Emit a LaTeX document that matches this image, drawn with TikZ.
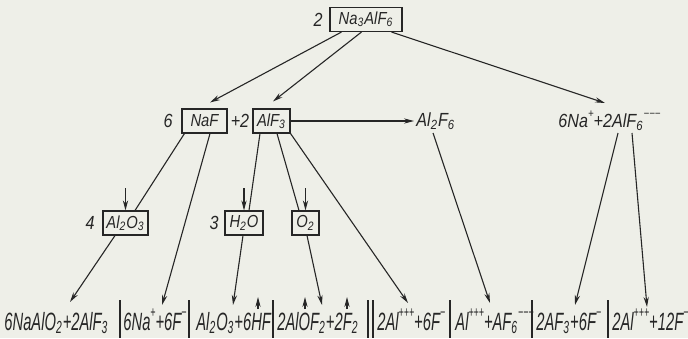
\documentclass[tikz,border=0pt]{standalone}
\usepackage{fontspec}
\setmainfont{Liberation Sans}
\newfontfamily\eqfont{Liberation Sans}[FakeStretch=0.59]
\newfontfamily\boxfont{Liberation Sans}[FakeStretch=0.85]
\usepackage{xcolor}
\usepackage{graphicx}
\usepackage{tikz}
\usetikzlibrary{arrows.meta,positioning,calc}

\definecolor{paper}{RGB}{238,239,232}
\definecolor{ink}{RGB}{38,38,38}

\newcommand{\subs}[1]{\textsubscript{#1}}
\newcommand{\chrg}[1]{\raisebox{0.95ex}{\scalebox{0.6}{#1}}}

\begin{document}
\begin{tikzpicture}[
  x=0.5pt, y=-0.5pt,
  salt/.style={rectangle, draw=ink, line width=0.55pt, text=ink, inner sep=0pt,
    minimum height=12pt, font=\boxfont\itshape\fontsize{8.7}{10}\selectfont},
  coef/.style={text=ink, inner sep=0pt, font=\boxfont\itshape\fontsize{9.5}{11}\selectfont},
  eqn/.style={anchor=base west, text=ink, inner sep=0pt, font=\eqfont\itshape\fontsize{12.5}{14}\selectfont},
  link/.style={draw=ink, line width=0.55pt},
  arrow/.style={link, -{Stealth[length=5pt,width=2.6pt]}}
]
\fill[paper] (0,0) rectangle (688,338);
\useasboundingbox (0,0) rectangle (688,338);

\node[salt, minimum width=36pt] (cryo) at (366,19.5) {Na\subs{3}AlF\subs{6}};
\node[coef] (kcryo) at (318,19.5) {2};

\node[coef] (knaf) at (168,121) {6};
\node[salt, minimum width=22.5pt] (naf) at (204.5,121) {NaF};
\node[coef] (kalf) at (240,121) {+2};
\node[salt, minimum width=18.5pt] (alf) at (271.5,121) {AlF\subs{3}};
\node[coef, anchor=west] (al2f6) at (416,121) {Al\subs{2}F\subs{6}};
\node[coef, anchor=west] (nafree) at (558,121) {6Na\chrg{+}+2AlF\subs{6}\chrg{−−−}};

\node[coef] (kalo) at (90,223) {4};
\node[salt, minimum width=22.5pt] (alo) at (125.5,223) {Al\subs{2}O\subs{3}};
\node[coef] (kwater) at (214,223) {3};
\node[salt, minimum width=19pt] (water) at (244,223) {H\subs{2}O};
\node[salt, minimum width=13.5pt] (oxy) at (305.5,223) {O\subs{2}};

\node[eqn] (seg1) at (4,330) {6NaAlO\subs{2}+2AlF\subs{3}};
\node[eqn] (seg2) at (123,330) {6Na\chrg{+}+6F\chrg{−}};
\node[eqn] (seg3) at (196,330) {Al\subs{2}O\subs{3}+6HF};
\node[eqn] (seg4) at (277,330) {2AlOF\subs{2}+2F\subs{2}};
\node[eqn] (seg5) at (377,330) {2Al\chrg{+++}+6F\chrg{−}};
\node[eqn] (seg6) at (455,330) {Al\chrg{+++}+AF\subs{6}\chrg{−−−}};
\node[eqn] (seg7) at (536,330) {2AF\subs{3}+6F\chrg{−}};
\node[eqn] (seg8) at (612,330) {2Al\chrg{+++}+12F\chrg{−}};

\draw[arrow] ($(cryo.south west)+(12,0)$) -- ($(naf.north)+(5.5,-6)$);
\draw[arrow] ($(cryo.south west)+(32,0)$) -- ($(alf.north)+(1.5,-7)$);
\draw[arrow] ($(cryo.south west)+(62,0)$) -- ($(nafree.west)+(47,-18)$);

\draw[link] ($(naf.south west)+(3,0)$) -- ($(alo.north)+(9.5,0)$);
\draw[arrow] ($(naf.south)+(5.5,0)$) -- ($(seg2.base west)+(39,-25)$);
\draw[link] ($(alf.south)+(-11.5,0)$) -- ($(water.north)+(5,0)$);
\draw[link] ($(alf.south)+(5.5,0)$) -- ($(oxy.north)+(-6.5,0)$);
\draw[arrow] (alf.south east) -- ($(seg5.base west)+(31,-27)$);
\draw[arrow, shorten >=1pt] (alf.east) -- (al2f6.west);
\draw[arrow] ($(al2f6.west)+(17,12)$) -- ($(seg6.base west)+(35,-27)$);
\draw[arrow] ($(nafree.west)+(60,12)$) -- ($(seg7.base west)+(39,-25)$);
\draw[arrow] ($(nafree.west)+(74,12)$) -- ($(seg8.base west)+(35,-23)$);

\draw[arrow] ($(alo.south)+(-10.5,0)$) -- ($(seg1.base west)+(66,-28)$);
\draw[arrow] ($(water.south)+(-1,0)$) -- ($(seg3.base west)+(37,-25)$);
\draw[arrow] ($(oxy.south)+(1.5,0)$) -- ($(seg4.base west)+(45,-25)$);

\foreach \b in {alo,water,oxy}
  \draw[arrow] ($(\b.north)+(0,-22)$) -- (\b.north);
\foreach \ux in {258,305,347}
  \draw[arrow] (\ux,309) -- (\ux,297);
\foreach \bx in {120,189,273,368,373,450,532,608}
  \draw[link] (\bx,300) -- (\bx,338);
\end{tikzpicture}
\end{document}
